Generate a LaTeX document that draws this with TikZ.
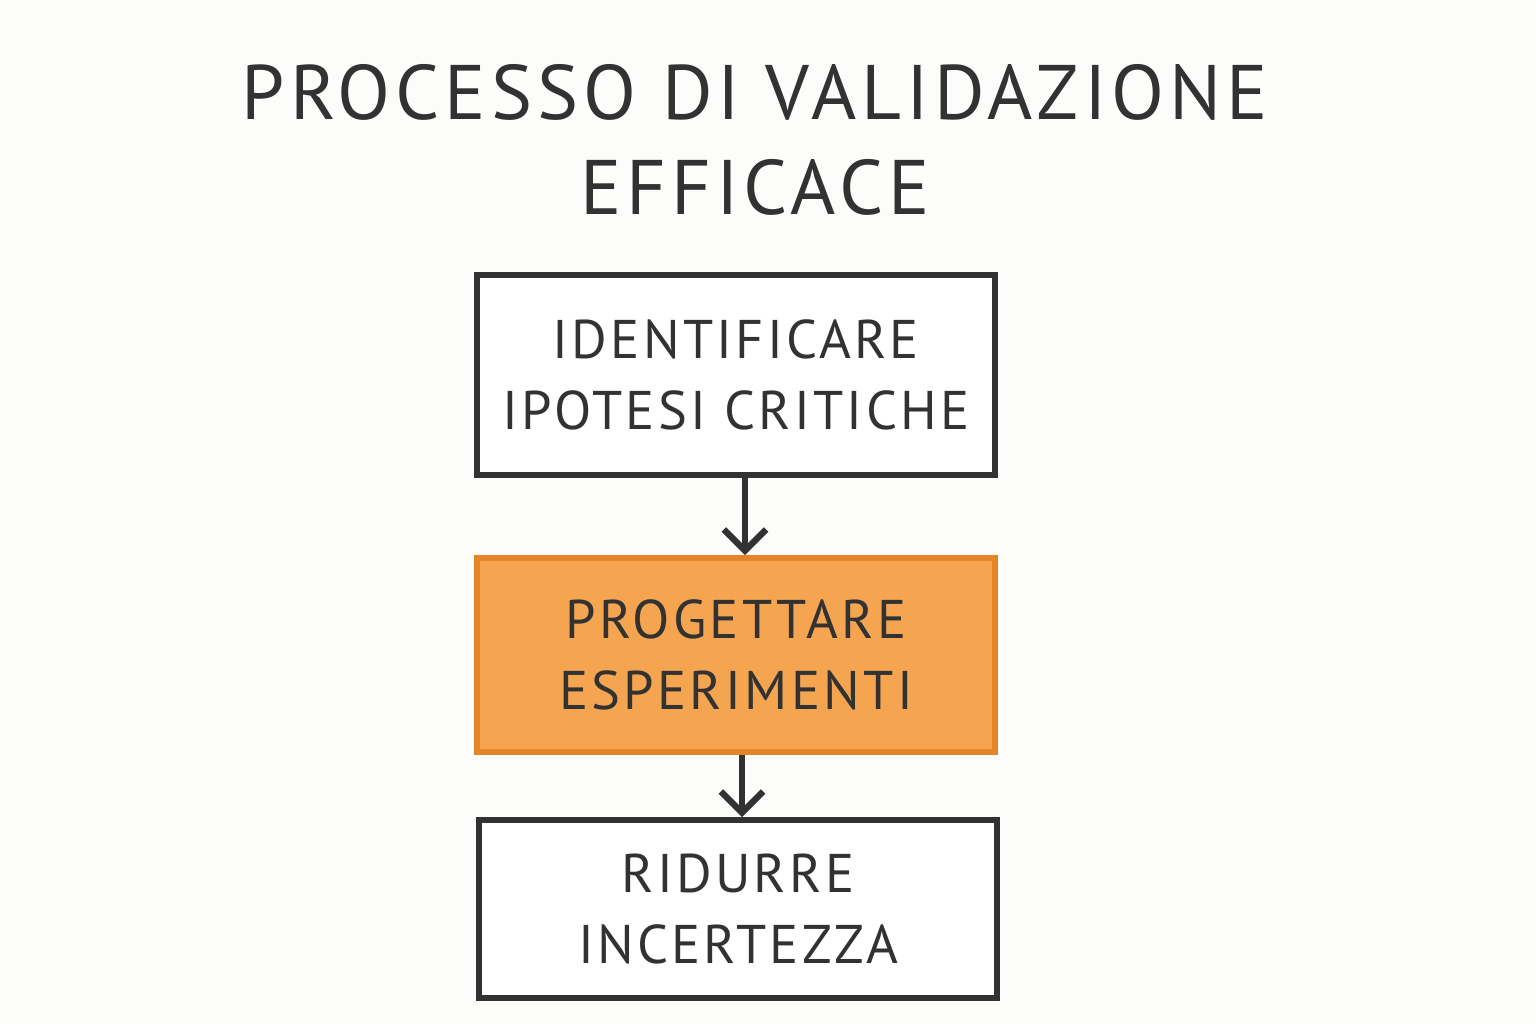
\documentclass[tikz,border=0pt]{standalone}
\usepackage{fontspec}
\setmainfont{PT Sans}
\usepackage{tikz}
\usetikzlibrary{arrows.meta, positioning}
\definecolor{mypaper}{RGB}{252,252,250}
\definecolor{mydark}{RGB}{50,50,50}
\definecolor{myorange}{RGB}{230,132,40}
\definecolor{hdrorange}{RGB}{245,165,80}
\newfontfamily\wideface[LetterSpace=6.5]{PT Sans}
\newfontfamily\boxface[LetterSpace=6]{PT Sans}
\tikzset{
  stepbox/.style={rectangle, draw=mydark, fill=white,
    minimum width=5.18cm, align=center, line width=1.7pt,
    font=\boxface\fontsize{15.5}{20}\selectfont, text=mydark},
  hotbox/.style={stepbox, draw=myorange, fill=hdrorange},
  arrow/.style={-{Straight Barb[length=6pt, width=12pt]}, line width=1.8pt, color=mydark}
}
\begin{document}
\begin{tikzpicture}
  % --- CANVAS ---
  \fill[mypaper] (0,0) rectangle (15.36,-10.24);
  \useasboundingbox (0,0) rectangle (15.36,-10.24);

  % --- TITLE ---
  \node[font=\wideface\fontsize{22}{27}\selectfont, text=mydark, align=center] (title) at (7.55,-1.40)
    {PROCESSO DI VALIDAZIONE\\EFFICACE};

  % --- STEPS ---
  \node[stepbox, minimum height=2.0cm] (ipotesi) at (7.36,-3.75) {IDENTIFICARE\\IPOTESI CRITICHE};
  \node[hotbox, minimum height=1.94cm] (esperimenti) at (7.36,-6.55) {PROGETTARE\\ESPERIMENTI};
  \node[stepbox, minimum height=1.78cm] (incertezza) at (7.38,-9.09) {RIDURRE\\INCERTEZZA};

  \draw[arrow] (ipotesi.south -| 7.45,0) -- (esperimenti.north -| 7.45,0);
  \draw[arrow] (esperimenti.south -| 7.42,0) -- (incertezza.north -| 7.42,0);
\end{tikzpicture}
\end{document}
